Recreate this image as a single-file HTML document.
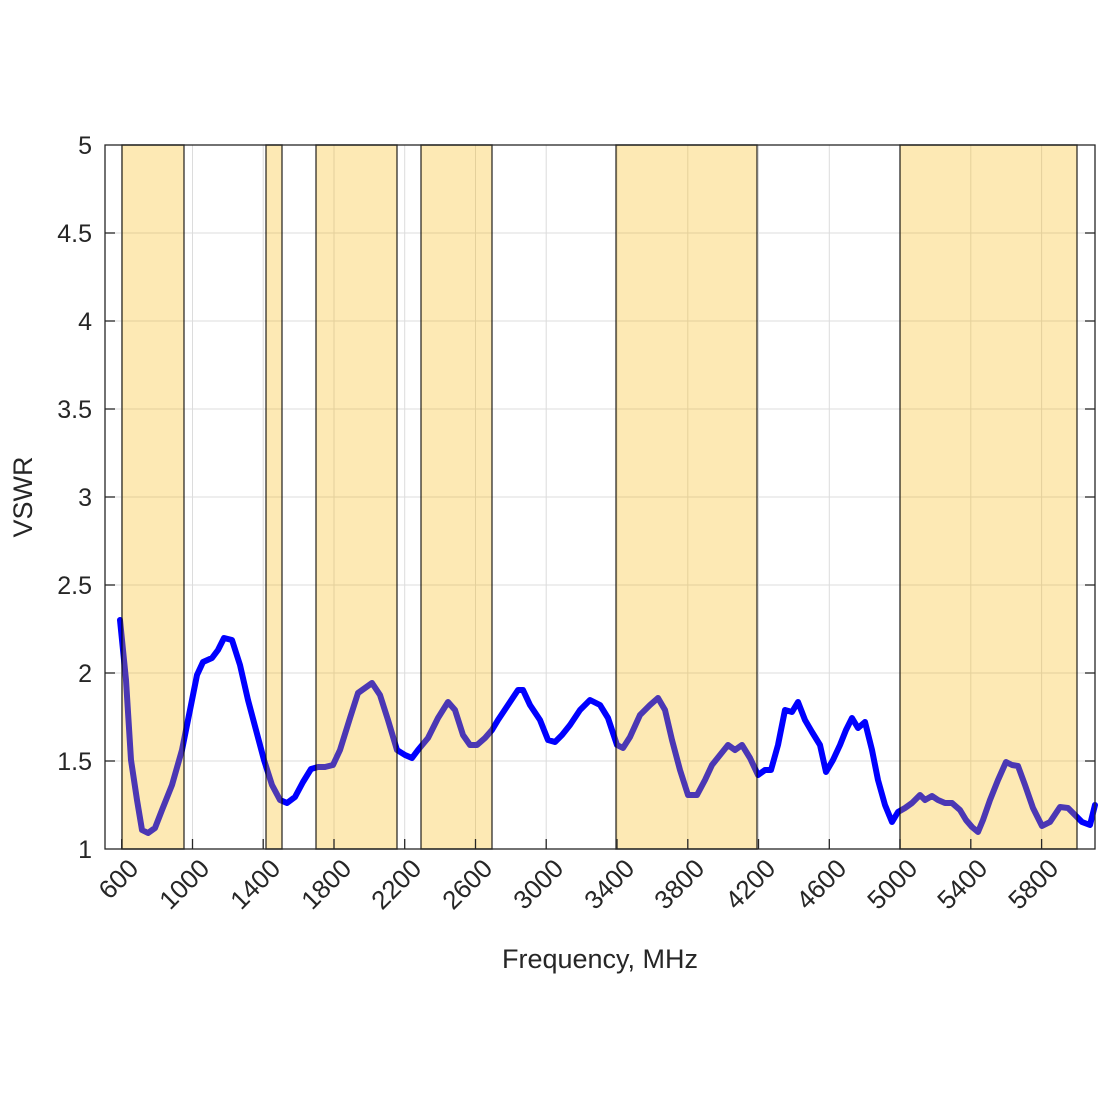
<!DOCTYPE html>
<html><head><meta charset="utf-8"><style>body{margin:0;background:#fff}svg{display:block}</style></head><body>
<svg width="1100" height="1100" viewBox="0 0 1100 1100" xmlns="http://www.w3.org/2000/svg" font-family="Liberation Sans, sans-serif">
<rect width="1100" height="1100" fill="#fff"/>
<g stroke="#dcdcdc" stroke-width="1">
<line x1="105" y1="761" x2="1095" y2="761"/><line x1="105" y1="673" x2="1095" y2="673"/><line x1="105" y1="585" x2="1095" y2="585"/><line x1="105" y1="497" x2="1095" y2="497"/><line x1="105" y1="409" x2="1095" y2="409"/><line x1="105" y1="321" x2="1095" y2="321"/><line x1="105" y1="233" x2="1095" y2="233"/>
<line x1="121.7" y1="145" x2="121.7" y2="849"/><line x1="192.5" y1="145" x2="192.5" y2="849"/><line x1="263.2" y1="145" x2="263.2" y2="849"/><line x1="334" y1="145" x2="334" y2="849"/><line x1="404.7" y1="145" x2="404.7" y2="849"/><line x1="475.5" y1="145" x2="475.5" y2="849"/><line x1="546.2" y1="145" x2="546.2" y2="849"/><line x1="617" y1="145" x2="617" y2="849"/><line x1="687.8" y1="145" x2="687.8" y2="849"/><line x1="758.5" y1="145" x2="758.5" y2="849"/><line x1="829.3" y1="145" x2="829.3" y2="849"/><line x1="900" y1="145" x2="900" y2="849"/><line x1="970.8" y1="145" x2="970.8" y2="849"/><line x1="1041.6" y1="145" x2="1041.6" y2="849"/>
</g>
<polyline fill="none" stroke="#0000ff" stroke-width="6" stroke-linejoin="round" stroke-linecap="round" points="120,620 126,680 131,760 137,800 142,830 148,833 155,828 162,810 172,785 182,750 190,710 197,675 203,662 212,658 218,650 224,638 232,640 240,665 248,700 256,730 264,760 272,785 280,800 287,803 295,797 303,782 311,769 318,767 325,767 333,765 340,750 350,718 358,693 365,688 372,683 380,695 388,720 397,750 405,755 412,758 418,750 428,738 438,718 448,702 455,710 463,735 470,745 477,745 485,738 492,730 498,720 508,705 518,690 523,690 530,705 540,720 548,740 555,742 562,735 570,725 580,710 590,700 600,705 608,718 617,745 623,748 630,737 640,715 650,705 658,698 665,710 672,740 680,770 688,795 697,795 705,780 712,765 720,755 728,745 735,750 742,745 750,758 758,775 765,770 771,770 778,745 785,710 792,712 798,702 805,720 812,732 820,745 826,772 833,760 840,745 846,730 852,718 858,728 865,722 872,750 878,780 885,805 892,822 898,812 905,808 912,803 920,795 925,800 932,796 938,800 945,803 952,803 960,810 966,820 972,827 978,832 983,820 990,800 998,780 1006,762 1012,765 1018,766 1025,785 1033,808 1042,826 1050,822 1060,807 1068,808 1075,815 1082,822 1090,825 1095,805"/>
<g fill="rgb(248,182,5)" fill-opacity="0.3" stroke="#000" stroke-opacity="0.7" stroke-width="1.5">
<rect x="122" y="145" width="62" height="704"/><rect x="266" y="145" width="16" height="704"/><rect x="316" y="145" width="81" height="704"/><rect x="421" y="145" width="71" height="704"/><rect x="616" y="145" width="141" height="704"/><rect x="900" y="145" width="177" height="704"/>
</g>
<rect x="105" y="145" width="990" height="704" fill="none" stroke="#262626" stroke-width="1.3"/>
<g stroke="#262626" stroke-width="1.3">
<line x1="121.7" y1="849" x2="121.7" y2="839"/><line x1="192.5" y1="849" x2="192.5" y2="839"/><line x1="263.2" y1="849" x2="263.2" y2="839"/><line x1="334" y1="849" x2="334" y2="839"/><line x1="404.7" y1="849" x2="404.7" y2="839"/><line x1="475.5" y1="849" x2="475.5" y2="839"/><line x1="546.2" y1="849" x2="546.2" y2="839"/><line x1="617" y1="849" x2="617" y2="839"/><line x1="687.8" y1="849" x2="687.8" y2="839"/><line x1="758.5" y1="849" x2="758.5" y2="839"/><line x1="829.3" y1="849" x2="829.3" y2="839"/><line x1="900" y1="849" x2="900" y2="839"/><line x1="970.8" y1="849" x2="970.8" y2="839"/><line x1="1041.6" y1="849" x2="1041.6" y2="839"/>
<line x1="105" y1="761" x2="115" y2="761"/><line x1="105" y1="673" x2="115" y2="673"/><line x1="105" y1="585" x2="115" y2="585"/><line x1="105" y1="497" x2="115" y2="497"/><line x1="105" y1="409" x2="115" y2="409"/><line x1="105" y1="321" x2="115" y2="321"/><line x1="105" y1="233" x2="115" y2="233"/>
<line x1="1095" y1="761" x2="1085" y2="761"/><line x1="1095" y1="673" x2="1085" y2="673"/><line x1="1095" y1="585" x2="1085" y2="585"/><line x1="1095" y1="497" x2="1085" y2="497"/><line x1="1095" y1="409" x2="1085" y2="409"/><line x1="1095" y1="321" x2="1085" y2="321"/><line x1="1095" y1="233" x2="1085" y2="233"/>
</g>
<g fill="#262626" font-size="25" text-anchor="end">
<text x="92" y="858">1</text><text x="92" y="770">1.5</text><text x="92" y="682">2</text><text x="92" y="594">2.5</text><text x="92" y="506">3</text><text x="92" y="418">3.5</text><text x="92" y="330">4</text><text x="92" y="242">4.5</text><text x="92" y="154">5</text>
</g>
<g fill="#262626" font-size="26" text-anchor="end">
<text transform="translate(140,870) rotate(-45)">600</text>
<text transform="translate(211,870) rotate(-45)">1000</text>
<text transform="translate(282,870) rotate(-45)">1400</text>
<text transform="translate(353,870) rotate(-45)">1800</text>
<text transform="translate(423,870) rotate(-45)">2200</text>
<text transform="translate(494,870) rotate(-45)">2600</text>
<text transform="translate(565,870) rotate(-45)">3000</text>
<text transform="translate(636,870) rotate(-45)">3400</text>
<text transform="translate(706,870) rotate(-45)">3800</text>
<text transform="translate(777,870) rotate(-45)">4200</text>
<text transform="translate(848,870) rotate(-45)">4600</text>
<text transform="translate(919,870) rotate(-45)">5000</text>
<text transform="translate(989,870) rotate(-45)">5400</text>
<text transform="translate(1060,870) rotate(-45)">5800</text>
</g>
<text x="600" y="968" font-size="27" fill="#262626" text-anchor="middle">Frequency, MHz</text>
<text transform="translate(32,497) rotate(-90)" font-size="27" fill="#262626" text-anchor="middle">VSWR</text>
</svg>
</body></html>
